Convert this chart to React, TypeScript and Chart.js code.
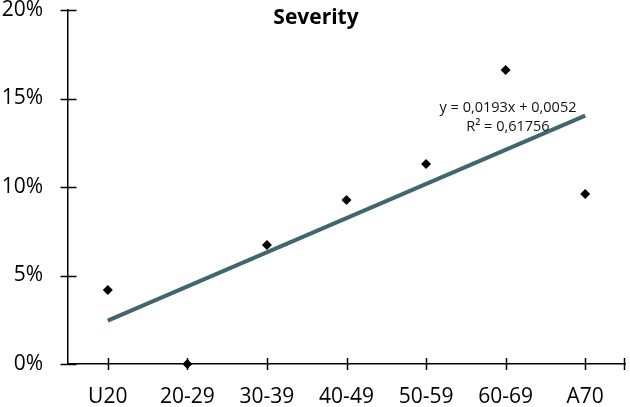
import React, { useEffect, useRef } from "react";
import { Chart, registerables } from "chart.js";

Chart.register(...registerables);

const categories = ["U20", "20-29", "30-39", "40-49", "50-59", "60-69", "A70"];
const severityValues = [0.0418, 0.0, 0.0672, 0.0927, 0.113, 0.1661, 0.096];
const yTickValues = [0, 0.05, 0.1, 0.15, 0.2];
const trendSlope = 0.0193;
const trendIntercept = 0.0052;
const trendLabel1 = "y = 0,0193x + 0,0052";
const trendLabel2 = "R² = 0,61756";
const chartTitle = "Severity";

const FONT = "'Open Sans', 'DejaVu Sans', sans-serif";

export default function App() {
  const ref = useRef<HTMLCanvasElement | null>(null);

  useEffect(() => {
    const canvas = ref.current;
    if (!canvas) return;

    const trendData = [
      { x: categories[0], y: trendIntercept + trendSlope * 1 },
      { x: categories[categories.length - 1], y: trendIntercept + trendSlope * categories.length },
    ];

    const crossTicks = {
      id: "crossTicks",
      afterDatasetsDraw(chart: any) {
        const ctx = chart.ctx;
        const xs = chart.scales.x;
        const ys = chart.scales.y;
        const area = chart.chartArea;
        ctx.save();
        ctx.strokeStyle = "#000";
        ctx.lineWidth = 1.5;
        ctx.beginPath();
        yTickValues.forEach((v) => {
          const y = Math.round(ys.getPixelForValue(v)) + 0.5;
          ctx.moveTo(area.left - 7.5, y);
          ctx.lineTo(area.left + 8.5, y);
        });
        categories.forEach((_c, i) => {
          const x = Math.round(xs.getPixelForValue(i)) + 0.5;
          ctx.moveTo(x, area.bottom - 6);
          ctx.lineTo(x, area.bottom + 6);
        });
        ctx.moveTo(area.right - 0.5, area.bottom - 6);
        ctx.lineTo(area.right - 0.5, area.bottom + 6);
        ctx.moveTo(area.left - 7, area.bottom + 0.5);
        ctx.lineTo(area.left, area.bottom + 0.5);
        ctx.stroke();

        ctx.fillStyle = "#000";
        ctx.textAlign = "center";
        ctx.textBaseline = "alphabetic";
        ctx.font = `bold 21px ${FONT}`;
        ctx.fillText(chartTitle, 316, 24);
        ctx.font = `14.5px ${FONT}`;
        ctx.fillStyle = "#111";
        ctx.fillText(trendLabel1, 508, 112);
        ctx.fillText(trendLabel2, 508, 131);
        ctx.restore();
      },
    };

    const chart = new Chart(canvas, {
      type: "line",
      data: {
        labels: categories,
        datasets: [
          {
            label: "Trend",
            data: trendData as any,
            borderColor: "#416670",
            borderWidth: 4,
            pointRadius: 0,
            fill: false,
            order: 2,
          },
          {
            label: "Severity",
            data: severityValues,
            showLine: false,
            pointStyle: "rectRot",
            pointRadius: 5,
            pointBackgroundColor: "#000",
            pointBorderColor: "#000",
            pointBorderWidth: 0,
            clip: false as any,
            order: 1,
          },
        ],
      },
      options: {
        responsive: false,
        animation: false,
        layout: { padding: { top: 10, right: 3, left: 0, bottom: 0 } },
        plugins: {
          legend: { display: false },
          tooltip: { enabled: false },
          title: { display: false },
        },
        scales: {
          x: {
            type: "category",
            offset: true,
            grid: { display: false, drawTicks: false, offset: false },
            border: { display: true, color: "#000", width: 1.5 },
            ticks: {
              padding: 20,
              color: "#000",
              font: { family: FONT, size: 21 },
              maxRotation: 0,
              autoSkip: false,
            },
            afterFit(scale: any) {
              scale.height = 43;
              scale.paddingLeft = 0;
              scale.paddingRight = 0;
            },
          },
          y: {
            min: 0,
            max: 0.2,
            grid: { display: false, drawTicks: false },
            border: { display: true, color: "#000", width: 1.5 },
            afterBuildTicks(scale: any) {
              scale.ticks = yTickValues.map((v) => ({ value: v }));
            },
            ticks: {
              padding: 25,
              color: "#000",
              font: { family: FONT, size: 21 },
              callback: (v: any) => `${Math.round(Number(v) * 100)}%`,
            },
            afterFit(scale: any) {
              scale.width = 68;
              scale.paddingTop = 0;
              scale.paddingBottom = 0;
            },
          },
        },
      },
      plugins: [crossTicks],
    });

    return () => chart.destroy();
  }, []);

  return (
    <div style={{ position: "absolute", left: 0, top: 0, width: 630, height: 407, background: "#fff" }}>
      <canvas ref={ref} width={630} height={407} style={{ width: 630, height: 407, display: "block" }} />
    </div>
  );
}
